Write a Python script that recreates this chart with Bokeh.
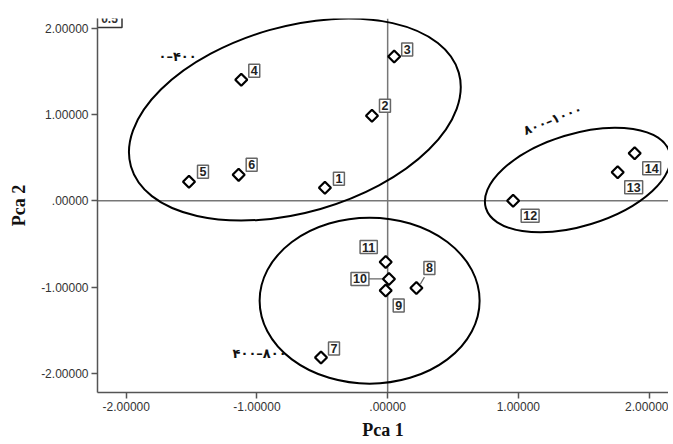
import math
from bokeh.plotting import figure
from bokeh.models import Range1d, FixedTicker, Span, Label, ColumnDataSource
from bokeh.core.properties import value
from bokeh.embed import file_html
from bokeh.resources import INLINE

# ---------------- data ----------------
point_ids = ["1", "2", "3", "4", "5", "6", "7", "8", "9", "10", "11", "12", "13", "14"]
pca1 = [-0.48, -0.12, 0.05, -1.12, -1.52, -1.14, -0.51, 0.22, -0.015, 0.01, -0.015, 0.96, 1.76, 1.89]
pca2 = [0.15, 0.985, 1.67, 1.40, 0.22, 0.30, -1.815, -1.01, -1.04, -0.905, -0.71, 0.0, 0.33, 0.55]

# label placement (screen px, y up)
label_dx = [14, 13, 13, 13, 14, 13, 13, 13, 13, -29, -17, 17, 16, 17]
label_dy = [9, 10, 7, 9, 10, 10, 9, 20, -15, 0, 15, -15, -15, -15]

x_tick_values = [-2, -1, 0, 1, 2]
x_tick_labels = ["-2.00000", "-1.00000", ".00000", "1.00000", "2.00000"]
y_tick_values = [-2, -1, 0, 1, 2]
y_tick_labels = ["-2.00000", "-1.00000", ".00000", "1.00000", "2.00000"]

# group ellipses: center (data), width/height (screen px), angle (rad)
group_names = ["۰–۴۰۰", "۴۰۰–۸۰۰", "۸۰۰–۱۰۰۰"]
group_cx = [-0.71, -0.138, 1.454]
group_cy = [0.94, -1.157, 0.24]
group_w = [341, 220, 192]
group_h = [186, 166, 92]
group_angle = [0.279, 0.0, 0.297]
group_label_x = [-1.607, -0.98, 1.262]
group_label_y = [1.672, -1.764, 0.94]
group_label_angle = [0.0, 0.0, 0.38]

FRAME_W, FRAME_H = 571, 378
X_START = -2.22
X_END = X_START + FRAME_W / 130.7
Y_START, Y_END = -2.22, 2.11
XS = FRAME_W / (X_END - X_START)
YS = FRAME_H / (Y_END - Y_START)

p = figure(width=668, height=442, output_backend="svg", toolbar_location=None,
           x_range=Range1d(X_START, X_END), y_range=Range1d(Y_START, Y_END),
           min_border_left=97, min_border_right=0, min_border_top=18, min_border_bottom=46)
p.outline_line_color = None
p.grid.visible = False
p.background_fill_color = "white"

for ax, vals, labs in ((p.xaxis[0], x_tick_values, x_tick_labels), (p.yaxis[0], y_tick_values, y_tick_labels)):
    ax.ticker = FixedTicker(ticks=vals)
    ax.major_label_overrides = {v: l for v, l in zip(vals, labs)}
    ax.minor_tick_line_color = None
    ax.major_tick_in = 0
    ax.major_tick_out = 6
    ax.major_tick_line_color = "#555555"
    ax.major_tick_line_width = 1.5
    ax.axis_line_color = "#555555"
    ax.axis_line_width = 1.5
    ax.major_label_text_font = "Liberation Sans"
    ax.major_label_text_font_size = "12px"
    ax.major_label_text_color = "#333333"
    ax.major_label_standoff = 3
    ax.axis_label_text_font = "Liberation Serif"
    ax.axis_label_text_font_style = "bold"
    ax.axis_label_text_font_size = "18px"
    ax.axis_label_text_color = "#111111"

p.xaxis.axis_label = "Pca 1"
p.yaxis.axis_label = "Pca 2"
p.xaxis.axis_label_standoff = 6
p.yaxis.axis_label_standoff = 9

# zero reference lines
p.add_layout(Span(location=0, dimension="height", line_color="#777777", line_width=1.5, level="underlay"))
p.add_layout(Span(location=0, dimension="width", line_color="#777777", line_width=1.5, level="underlay"))

# group ellipses
p.ellipse(x=group_cx, y=group_cy, width=group_w, height=group_h, angle=group_angle,
          width_units="screen", height_units="screen",
          fill_color=None, line_color="black", line_width=2)

# leader lines for labels 8 and 10
lx0, ly0, lx1, ly1 = [], [], [], []
i8 = point_ids.index("8")
lx0.append(pca1[i8] + 4 / XS); ly0.append(pca2[i8] + 4 / YS)
lx1.append(pca1[i8] + 8 / XS); ly1.append(pca2[i8] + 11 / YS)
i10 = point_ids.index("10")
lx0.append(pca1[i10] - 6 / XS); ly0.append(pca2[i10])
lx1.append(pca1[i10] - 20 / XS); ly1.append(pca2[i10])
p.segment(x0=lx0, y0=ly0, x1=lx1, y1=ly1, line_color="#666666", line_width=1.2)

# points
src = ColumnDataSource(dict(x=pca1, y=pca2, t=point_ids, dx=label_dx,
                            dy=[-d for d in label_dy]))
p.scatter("x", "y", source=src, marker="square", angle=math.pi / 4, size=8.5,
          fill_color="white", line_color="black", line_width=2.2)

p.text(x="x", y="y", text="t", x_offset="dx", y_offset="dy", source=src,
       text_align="center", text_baseline="middle",
       text_font=value("Liberation Sans"), text_font_style="bold",
       text_font_size="12.5px", text_color="#222222",
       background_fill_color="white", border_line_color="#666666",
       border_line_width=1.5, padding=2)

# group labels
for name, gx, gy, ga in zip(group_names, group_label_x, group_label_y, group_label_angle):
    p.add_layout(Label(x=gx, y=gy, text=name, angle=ga, text_align="center", text_baseline="middle",
                       text_font="DejaVu Sans", text_font_style="bold",
                       text_font_size="13px", text_color="#111111"))

# clipped "0.5" box at top-left corner of the plot area
p.rect(x=[X_START + 12 / XS], y=[Y_END], width=25, height=18, width_units="screen", height_units="screen",
       fill_color="white", line_color="#333333", line_width=1.5)
p.text(x=[X_START + 12 / XS], y=[Y_END], text=["0.5"], text_align="center", text_baseline="middle",
       text_font=value("Liberation Sans"), text_font_style="bold", text_font_size="12px", text_color="#333333")

open("out.html", "w").write(file_html(p, INLINE))
